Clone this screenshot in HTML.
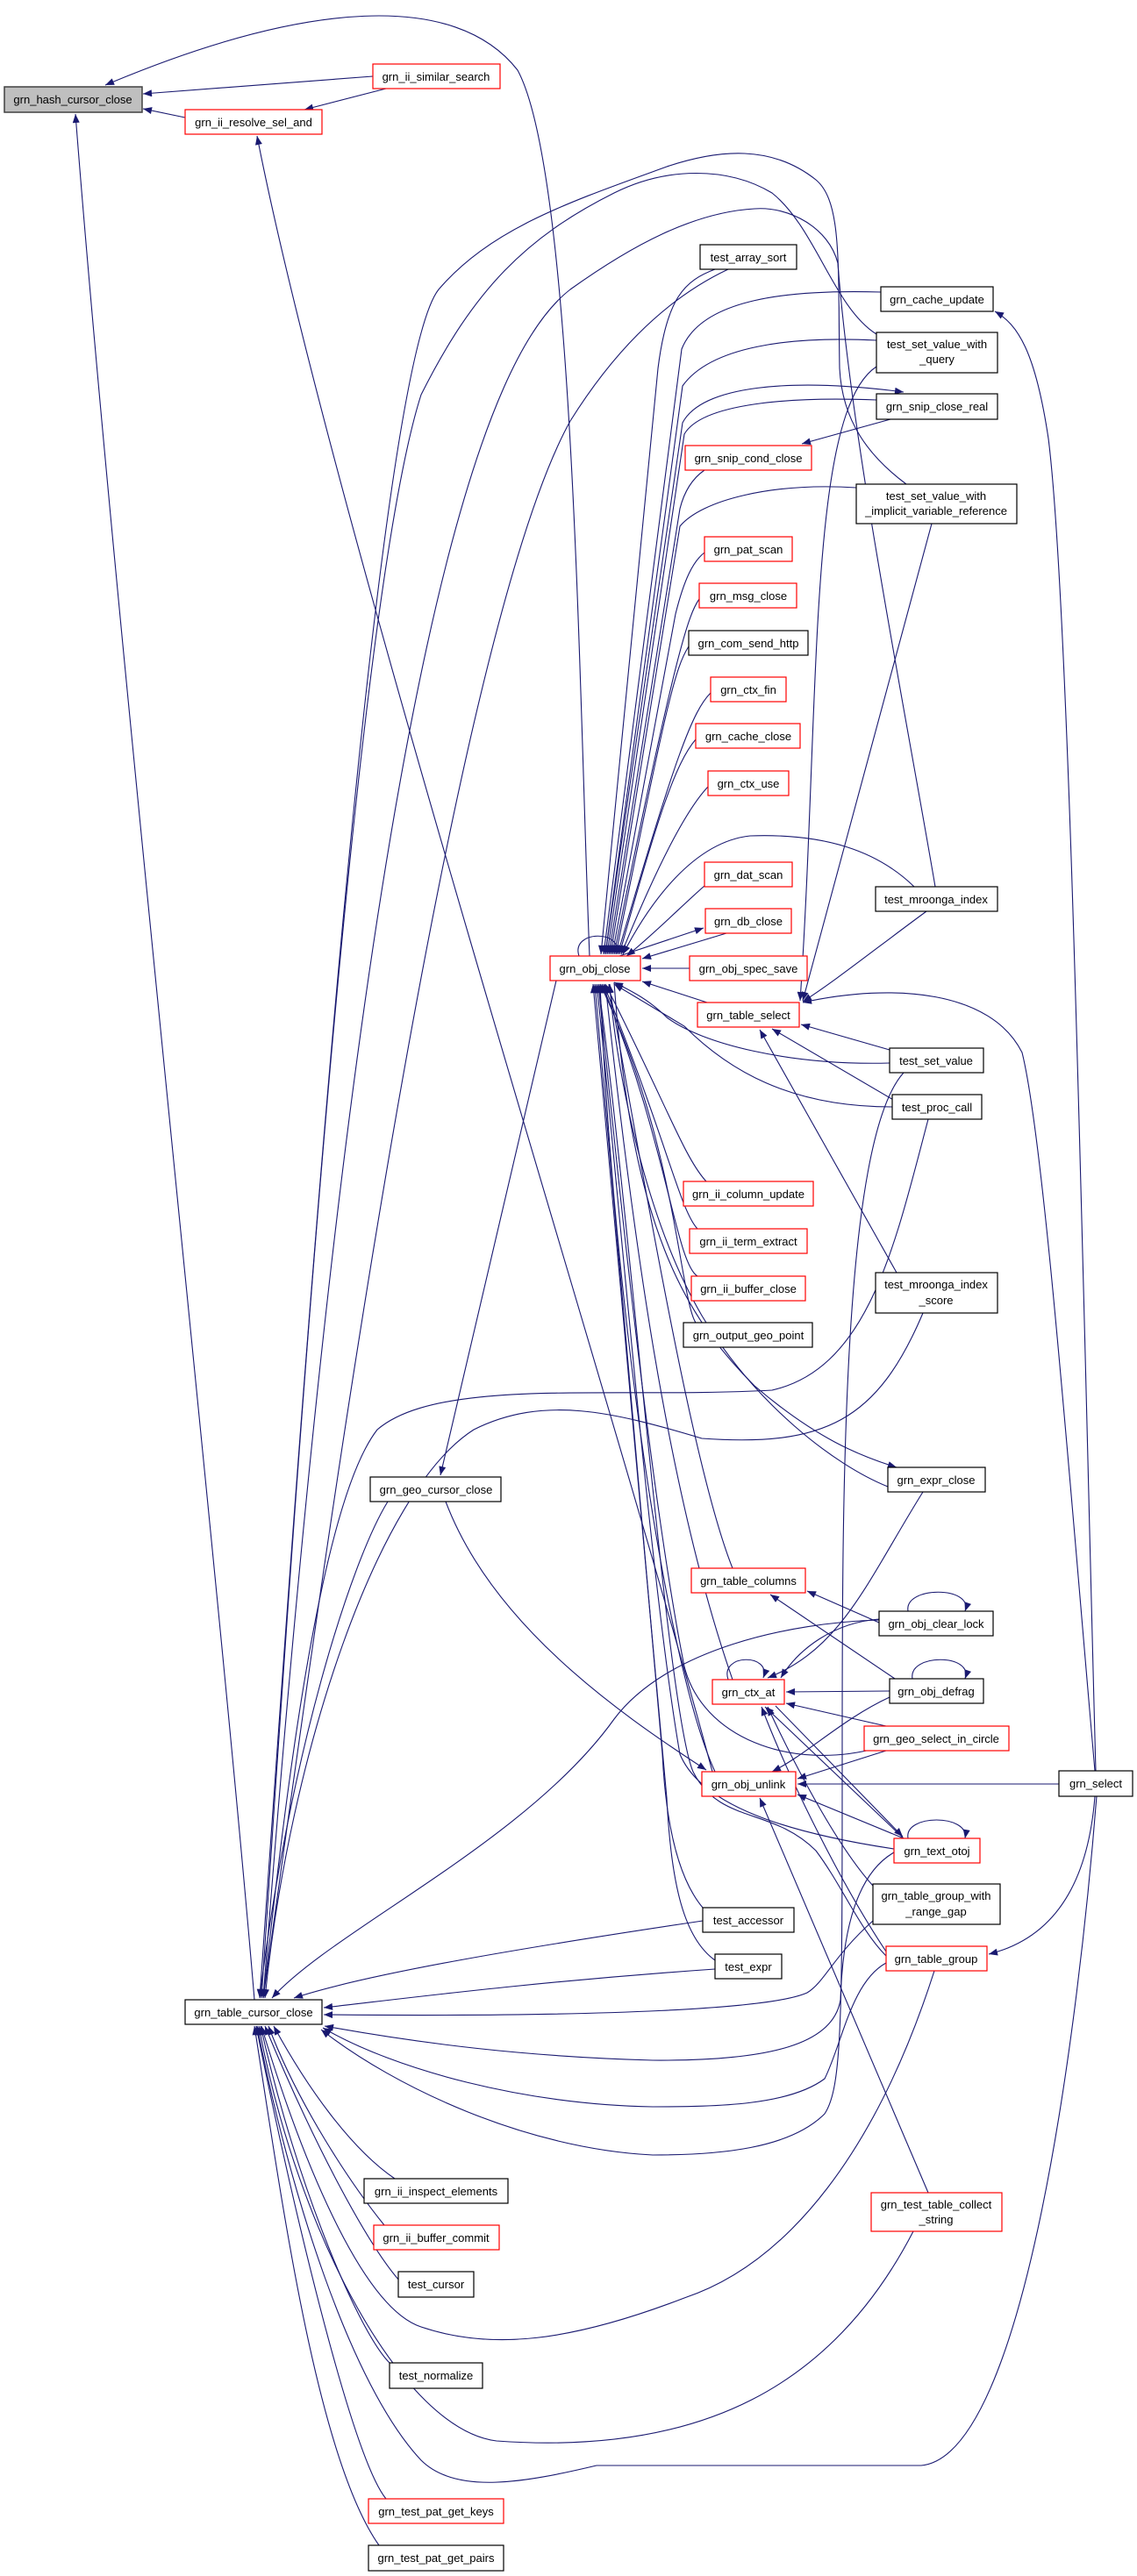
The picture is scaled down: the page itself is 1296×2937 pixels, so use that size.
<!DOCTYPE html>
<html><head><meta charset="utf-8"><style>
html,body{margin:0;padding:0;background:#fff;}
svg{display:block;}
text{font-family:"Liberation Sans",sans-serif;font-size:13px;fill:#000;text-anchor:middle;}
.e{fill:none;stroke:#191970;stroke-width:1.1;}
.n{fill:#fff;stroke:#000;stroke-width:1.2;}
.r{fill:#fff;stroke:#ff0000;stroke-width:1.2;}
</style></head><body>
<svg width="1296" height="2937" viewBox="0 0 1296 2937" xmlns="http://www.w3.org/2000/svg">
<defs><marker id="a" viewBox="0 0 10 8" refX="10" refY="4" markerWidth="11" markerHeight="8" markerUnits="userSpaceOnUse" orient="auto"><path d="M0,0 L10,4 L0,8 z" fill="#191970"/></marker></defs>
<g class="e" marker-end="url(#a)">
<path d="M425 87 L163 107"/>
<path d="M211 134 L163 124"/>
<path d="M440 101 L347 125"/>
<path d="M672 1090 C660 800 655 200 590 80 C520 -10 350 0 120 97"/>
<path d="M290 2280 C250 1800 130 700 86 130"/>
<path d="M812 2020 C700 1600 380 600 293 155"/>
<path d="M815 307 C780 320 760 340 750 420 L685 1088"/>
<path d="M830 307 C760 340 700 400 650 480 C500 750 340 2000 300 2278"/>
<path d="M1004 333 C900 330 800 340 777 398 L688 1088"/>
<path d="M999 388 C900 383 810 395 778 440 L690 1088"/>
<path d="M690 1088 L778 482 C800 440 900 430 1030 447"/>
<path d="M999 456 C900 452 800 460 780 495 L692 1088"/>
<path d="M1015 478 L914 506"/>
<path d="M803 536 C790 545 780 560 775 580 L694 1088"/>
<path d="M976 556 C880 550 800 570 775 600 L696 1088"/>
<path d="M803 630 C790 640 780 660 770 700 L698 1088"/>
<path d="M797 683 C785 700 770 740 700 1088"/>
<path d="M785 737 C770 760 760 800 702 1088"/>
<path d="M810 790 C790 810 770 860 704 1088"/>
<path d="M793 843 C770 870 750 930 706 1088"/>
<path d="M807 897 C790 915 760 960 708 1088"/>
<path d="M1042 1011 C1000 970 940 950 855 953 C790 960 740 1030 710 1088"/>
<path d="M803 1010 C780 1030 740 1070 714 1090"/>
<path d="M706 1090 L802 1058"/>
<path d="M828 1064 L732 1093"/>
<path d="M786 1104 L732 1104"/>
<path d="M806 1143 L732 1119"/>
<path d="M1014 1212 C900 1215 800 1190 760 1160 C740 1140 720 1130 700 1120"/>
<path d="M1017 1262 C900 1262 830 1220 780 1170 L700 1122"/>
<path d="M805 1347 C780 1320 760 1260 690 1122"/>
<path d="M795 1401 C775 1380 760 1300 688 1122"/>
<path d="M795 1455 C770 1440 760 1300 686 1122"/>
<path d="M793 1508 C775 1480 770 1300 684 1122"/>
<path d="M700 1120 C720 1400 780 1500 860 1580 C930 1640 980 1660 1022 1673"/>
<path d="M1012 1695 C950 1670 860 1600 800 1500 C730 1380 700 1200 695 1122"/>
<path d="M634 1118 L502 1682"/>
<path d="M835 1788 C800 1700 760 1500 694 1122"/>
<path d="M835 1915 C760 1700 720 1400 690 1122"/>
<path d="M815 2020 C760 1900 700 1500 684 1122"/>
<path d="M1000 1993 C900 2020 800 1980 780 1900 C740 1700 700 1300 682 1122"/>
<path d="M1019 2108 C900 2090 800 2060 775 2000 C740 1800 700 1300 680 1122"/>
<path d="M801 2175 C780 2150 760 2100 755 2000 L678 1122"/>
<path d="M815 2235 C780 2210 765 2150 760 2050 L676 1122"/>
<path d="M1010 2230 C980 2200 960 2150 930 2110 C880 2060 820 2080 790 2020 C760 1950 720 1400 682 1122"/>
<path d="M660 1090 C650 1060 712 1060 702 1088"/>
<path d="M508 1712 C560 1850 700 1950 805 2018"/>
<path d="M442 1712 C400 1780 330 2000 296 2278"/>
<path d="M1056 1039 C1000 1080 950 1120 915 1142"/>
<path d="M999 418 C920 470 935 800 912 1141"/>
<path d="M1062 597 L915 1141"/>
<path d="M1014 1197 L913 1168"/>
<path d="M1020 1255 L880 1173"/>
<path d="M1022 1451 L866 1174"/>
<path d="M1248 2019 C1220 1700 1190 1300 1165 1200 C1130 1130 1020 1120 915 1143"/>
<path d="M1249 2019 C1235 1500 1220 700 1195 500 C1180 400 1160 370 1134 355"/>
<path d="M1058 1276 C1020 1420 990 1560 880 1585 C700 1595 500 1570 430 1630 C360 1720 320 2100 300 2278"/>
<path d="M1052 1497 C1000 1620 940 1650 800 1640 C700 1610 620 1590 540 1630 C430 1700 330 2000 302 2278"/>
<path d="M1002 1850 L920 1814"/>
<path d="M1020 1914 L878 1818"/>
<path d="M1035 1837 C1030 1808 1110 1808 1100 1837"/>
<path d="M1002 1846 C950 1850 910 1880 890 1913"/>
<path d="M1002 1847 C900 1850 760 1880 700 1960 C600 2100 380 2200 310 2278"/>
<path d="M1052 1701 C990 1800 960 1880 875 1913"/>
<path d="M1040 1914 C1035 1885 1110 1885 1100 1914"/>
<path d="M1014 1928 L896 1929"/>
<path d="M1014 1935 C960 1960 920 2000 880 2020"/>
<path d="M1010 1968 L896 1942"/>
<path d="M1010 1996 L909 2028"/>
<path d="M1207 2034 L909 2034"/>
<path d="M1030 2096 L909 2046"/>
<path d="M1030 2096 L872 1946"/>
<path d="M1035 2096 C1030 2068 1105 2068 1100 2096"/>
<path d="M884 1945 L1029 2094"/>
<path d="M830 1915 C820 1885 880 1885 870 1913"/>
<path d="M995 2150 C950 2100 900 2000 875 1946"/>
<path d="M1010 2225 C960 2150 900 2030 868 1946"/>
<path d="M1058 2500 L866 2050"/>
<path d="M1248 2048 C1240 2150 1200 2210 1127 2228"/>
<path d="M995 2190 C950 2230 940 2260 920 2272 C880 2290 700 2300 369 2297"/>
<path d="M1019 2112 C970 2140 960 2220 958 2280 C950 2330 880 2350 744 2349 C600 2345 480 2330 370 2310"/>
<path d="M1010 2238 C970 2260 960 2330 940 2370 C900 2400 820 2402 744 2402 C600 2400 450 2360 368 2312"/>
<path d="M1030 1223 C960 1300 960 1700 960 2000 C960 2300 960 2380 940 2410 C900 2450 820 2457 744 2457 C600 2450 450 2380 366 2314"/>
<path d="M450 2484 C400 2450 350 2380 312 2310"/>
<path d="M438 2537 C400 2490 340 2400 306 2310"/>
<path d="M455 2600 C420 2560 360 2450 302 2310"/>
<path d="M1065 2247 C1000 2450 900 2580 780 2620 C650 2670 560 2680 480 2653 C410 2630 340 2450 298 2310"/>
<path d="M444 2694 C410 2660 340 2500 297 2310"/>
<path d="M1041 2544 C950 2720 800 2800 566 2783 C460 2770 340 2550 295 2310"/>
<path d="M1250 2048 C1230 2300 1170 2800 1050 2811 L680 2811 C600 2830 520 2845 480 2805 C400 2720 330 2500 293 2310"/>
<path d="M440 2849 C400 2800 330 2500 292 2310"/>
<path d="M432 2902 C360 2800 320 2500 290 2310"/>
<path d="M801 2190 C600 2220 420 2250 335 2278"/>
<path d="M815 2245 C600 2260 450 2280 369 2289"/>
<path d="M1033 552 C990 520 960 480 957 420 C955 300 960 230 930 205 C880 165 820 170 760 190 C650 230 560 260 500 330 C420 430 330 1800 296 2278"/>
<path d="M999 381 C950 350 930 260 880 220 C830 190 760 190 700 220 C600 270 540 330 480 450 C400 700 330 1800 298 2278"/>
<path d="M1066 1011 C1030 800 970 500 955 300 C945 260 900 235 860 238 C790 242 720 280 650 330 C560 400 420 700 300 2278"/>
</g>
<g>
<rect x="5" y="99" width="157" height="29" fill="#bfbfbf" stroke="#404040" stroke-width="1.5"/><text x="83" y="118">grn_hash_cursor_close</text>
<rect class="r" x="425" y="73" width="145" height="28"/><text x="497" y="92">grn_ii_similar_search</text>
<rect class="r" x="211" y="125" width="156" height="28"/><text x="289" y="144">grn_ii_resolve_sel_and</text>
<rect class="n" x="798" y="279" width="110" height="28"/><text x="853" y="298">test_array_sort</text>
<rect class="n" x="1004" y="327" width="128" height="28"/><text x="1068" y="346">grn_cache_update</text>
<rect class="n" x="999" y="379" width="138" height="46"/><text x="1068" y="397">test_set_value_with</text><text x="1068" y="414">_query</text>
<rect class="n" x="999" y="449" width="138" height="29"/><text x="1068" y="468">grn_snip_close_real</text>
<rect class="r" x="781" y="508" width="144" height="28"/><text x="853" y="527">grn_snip_cond_close</text>
<rect class="n" x="976" y="552" width="183" height="45"/><text x="1067" y="570">test_set_value_with</text><text x="1067" y="587">_implicit_variable_reference</text>
<rect class="r" x="803" y="612" width="100" height="28"/><text x="853" y="631">grn_pat_scan</text>
<rect class="r" x="797" y="665" width="111" height="28"/><text x="853" y="684">grn_msg_close</text>
<rect class="n" x="785" y="719" width="136" height="28"/><text x="853" y="738">grn_com_send_http</text>
<rect class="r" x="810" y="772" width="86" height="28"/><text x="853" y="791">grn_ctx_fin</text>
<rect class="r" x="793" y="825" width="119" height="28"/><text x="853" y="844">grn_cache_close</text>
<rect class="r" x="807" y="879" width="92" height="28"/><text x="853" y="898">grn_ctx_use</text>
<rect class="r" x="803" y="983" width="100" height="28"/><text x="853" y="1002">grn_dat_scan</text>
<rect class="r" x="804" y="1036" width="98" height="28"/><text x="853" y="1055">grn_db_close</text>
<rect class="r" x="627" y="1090" width="103" height="28"/><text x="678" y="1109">grn_obj_close</text>
<rect class="r" x="786" y="1090" width="134" height="28"/><text x="853" y="1109">grn_obj_spec_save</text>
<rect class="r" x="795" y="1143" width="116" height="28"/><text x="853" y="1162">grn_table_select</text>
<rect class="n" x="998" y="1011" width="139" height="28"/><text x="1067" y="1030">test_mroonga_index</text>
<rect class="n" x="1014" y="1195" width="107" height="28"/><text x="1067" y="1214">test_set_value</text>
<rect class="n" x="1017" y="1248" width="102" height="28"/><text x="1068" y="1267">test_proc_call</text>
<rect class="r" x="779" y="1347" width="148" height="28"/><text x="853" y="1366">grn_ii_column_update</text>
<rect class="r" x="786" y="1401" width="134" height="28"/><text x="853" y="1420">grn_ii_term_extract</text>
<rect class="r" x="788" y="1455" width="130" height="28"/><text x="853" y="1474">grn_ii_buffer_close</text>
<rect class="n" x="779" y="1508" width="147" height="28"/><text x="853" y="1527">grn_output_geo_point</text>
<rect class="n" x="998" y="1451" width="139" height="46"/><text x="1067" y="1469">test_mroonga_index</text><text x="1067" y="1487">_score</text>
<rect class="n" x="422" y="1684" width="149" height="28"/><text x="497" y="1703">grn_geo_cursor_close</text>
<rect class="n" x="1012" y="1673" width="111" height="28"/><text x="1067" y="1692">grn_expr_close</text>
<rect class="r" x="788" y="1788" width="130" height="28"/><text x="853" y="1807">grn_table_columns</text>
<rect class="n" x="1002" y="1837" width="130" height="28"/><text x="1067" y="1856">grn_obj_clear_lock</text>
<rect class="r" x="812" y="1915" width="82" height="28"/><text x="853" y="1934">grn_ctx_at</text>
<rect class="n" x="1014" y="1914" width="107" height="28"/><text x="1067" y="1933">grn_obj_defrag</text>
<rect class="r" x="985" y="1968" width="165" height="28"/><text x="1067" y="1987">grn_geo_select_in_circle</text>
<rect class="r" x="800" y="2020" width="107" height="28"/><text x="853" y="2039">grn_obj_unlink</text>
<rect class="n" x="1207" y="2019" width="84" height="29"/><text x="1249" y="2038">grn_select</text>
<rect class="r" x="1019" y="2096" width="98" height="28"/><text x="1068" y="2115">grn_text_otoj</text>
<rect class="n" x="995" y="2148" width="145" height="46"/><text x="1067" y="2166">grn_table_group_with</text><text x="1067" y="2184">_range_gap</text>
<rect class="n" x="801" y="2175" width="104" height="28"/><text x="853" y="2194">test_accessor</text>
<rect class="n" x="815" y="2228" width="76" height="28"/><text x="853" y="2247">test_expr</text>
<rect class="r" x="1010" y="2219" width="115" height="28"/><text x="1067" y="2238">grn_table_group</text>
<rect class="n" x="211" y="2280" width="156" height="28"/><text x="289" y="2299">grn_table_cursor_close</text>
<rect class="n" x="415" y="2484" width="164" height="28"/><text x="497" y="2503">grn_ii_inspect_elements</text>
<rect class="r" x="993" y="2500" width="149" height="44"/><text x="1067" y="2518">grn_test_table_collect</text><text x="1067" y="2535">_string</text>
<rect class="r" x="426" y="2537" width="143" height="28"/><text x="497" y="2556">grn_ii_buffer_commit</text>
<rect class="n" x="454" y="2590" width="86" height="29"/><text x="497" y="2609">test_cursor</text>
<rect class="n" x="444" y="2694" width="106" height="29"/><text x="497" y="2713">test_normalize</text>
<rect class="r" x="420" y="2849" width="154" height="28"/><text x="497" y="2868">grn_test_pat_get_keys</text>
<rect class="n" x="420" y="2902" width="154" height="29"/><text x="497" y="2921">grn_test_pat_get_pairs</text>
</g>
</svg>
</body></html>
